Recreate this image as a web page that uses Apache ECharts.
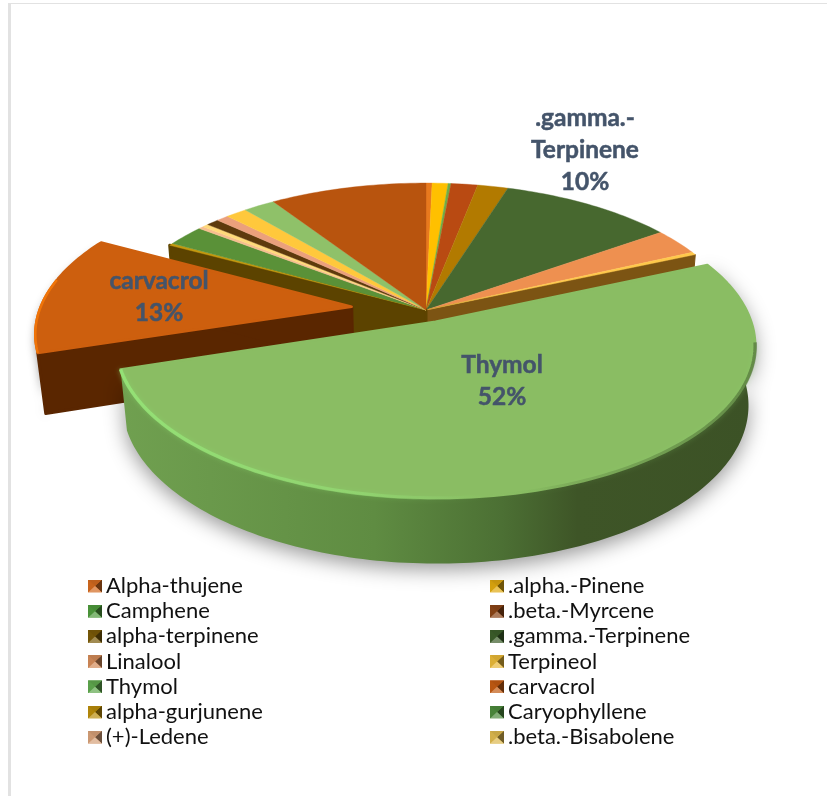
<!DOCTYPE html>
<html>
<head>
<meta charset="utf-8">
<style>html,body{margin:0;padding:0;background:#fff}#chart{width:827px;height:796px}</style>
<script src="https://cdn.jsdelivr.net/npm/echarts@6/dist/echarts.min.js"></script>
</head>
<body>
<div id="chart"></div>
<script>
// Composition of the oil, percent of total, clockwise from twelve o'clock.
const compounds = ['Alpha-thujene', '.alpha.-Pinene', 'Camphene', '.beta.-Myrcene', 'alpha-terpinene',
  '.gamma.-Terpinene', 'Linalool', 'Terpineol', 'Thymol', 'carvacrol', 'alpha-gurjunene', 'Caryophyllene',
  '(+)-Ledene', '.beta.-Bisabolene', 'Compound 15', 'Compound 16', 'Compound 17', 'Compound 18', 'Compound 19'];
const shares = [0.36, 0.94, 0.17, 1.58, 1.8, 10.36, 2.9, 0.3, 51.7, 12.8, 0.25, 2.3, 0.3, 0.36, 0.75, 0.72, 1.28, 1.89, 9.28];
const legendLeft = compounds.filter((_, i) => i < 14 && i % 2 === 0);
const legendRight = compounds.filter((_, i) => i < 14 && i % 2 === 1);

// Colours of the top faces and the cut faces.
const topColors = ['#E8791E', '#FFC000', '#70AD47', '#B94A12', '#B27A00', '#47682F', '#EE9050', '#FFC84A', '#8ABD63',
  '#CD5F0E', '#C49A10', '#5A9138', '#F6BE8E', '#FFD97A', '#5E3A0C', '#EBA07C', '#FFC83C', '#8FC169', '#B8540E'];
const wallColors = { 'Terpineol': '#7C5413', 'carvacrol': '#5A2600', 'alpha-gurjunene': '#5C4300' };
const legendColors = ['#D2691F', '#E0A90F', '#4E9A3C', '#8A4416', '#7A5A08', '#3C5E2A', '#D28A58', '#E8B838', '#5FA84E',
  '#C25A12', '#B98C0A', '#4C8A3C', '#D6A078', '#DDB84E'];

// Pulled-out slices, as a fraction of the radius.
const explode = { 'Thymol': 0.085, 'carvacrol': 0.24 };
// Slices carrying a data label, with the label's centre on the page.
const labelSpots = { '.gamma.-Terpinene': [585, 150], 'Thymol': [502, 381], 'carvacrol': [159, 297] };

// Perspective projection of the tilted disc.
const view = { cx: 426, cy: 310, radius: 312, squash: 146, height: 60, near: 0.15, far: 0.02 };
function project(x, y, z) {
  const w = 1 - view.near * y + view.far * z;
  return [view.cx + view.radius * x / w, view.cy + (view.squash * y + view.height * z) / w];
}
const total = shares.reduce((a, b) => a + b, 0);
const cumulative = [0];
shares.forEach((s, i) => cumulative.push(cumulative[i] + s));
const angleAt = i => cumulative[i] / total * 2 * Math.PI;

function sliceGeometry(i) {
  const a0 = angleAt(i), a1 = angleAt(i + 1), mid = (a0 + a1) / 2;
  const off = explode[compounds[i]] || 0;
  const ox = off * Math.sin(mid), oy = -off * Math.cos(mid);
  const rim = (from, to, z) => {
    const n = Math.max(2, Math.ceil((to - from) / 0.02));
    const pts = [];
    for (let k = 0; k <= n; k++) {
      const t = from + (to - from) * k / n;
      pts.push(project(ox + Math.sin(t), oy - Math.cos(t), z));
    }
    return pts;
  };
  return { a0, a1, off, ox, oy, rim };
}

function mix(hex, other, t) {
  const c = h => [1, 3, 5].map(k => parseInt(h.substr(k, 2), 16));
  const a = c(hex), b = c(other);
  return 'rgb(' + a.map((v, k) => Math.round(v + (b[k] - v) * t)).join(',') + ')';
}
// Bevelled legend swatch: light top and bottom, darker flanks.
function swatch(color) {
  const svg = '<svg xmlns="http://www.w3.org/2000/svg" width="14" height="13" viewBox="0 0 14 13">' +
    '<rect width="14" height="13" fill="' + color + '"/>' +
    '<path d="M0 0L7 6.5L0 13Z" fill="' + mix(color, '#000000', 0.05) + '"/>' +
    '<path d="M14 0L7 6.5L14 13Z" fill="' + mix(color, '#000000', 0.5) + '"/>' +
    '<path d="M0 13L7 6.5L14 13Z" fill="' + mix(color, '#ffffff', 0.3) + '"/>' +
    '<path d="M0 0L7 6.5L14 0Z" fill="' + mix(color, '#000000', 0.1) + '"/></svg>';
  return 'image://data:image/svg+xml;charset=utf-8,' + encodeURIComponent(svg);
}
const linear = (x, y, x2, y2, stops) => new echarts.graphic.LinearGradient(x, y, x2, y2, stops);

function renderSlice(i) {
  const name = compounds[i];
  const g = sliceGeometry(i);
  const kids = [];
  const apexTop = project(g.ox, g.oy, 0), apexLow = project(g.ox, g.oy, 1);
  const prevLoose = (explode[compounds[(i + compounds.length - 1) % compounds.length]] || 0) !== g.off;
  const nextLoose = (explode[compounds[(i + 1) % compounds.length]] || 0) !== g.off;
  const wall = wallColors[name];

  // Outer wall of a pulled-out slice.
  if (g.off > 0) {
    const pts = g.rim(g.a0, g.a1, 0).concat(g.rim(g.a0, g.a1, 1).reverse());
    const isThymol = name === 'Thymol';
    kids.push({ type: 'polygon', shape: { points: pts }, style: {
      fill: isThymol
        ? linear(1, 0, 0, 0, [{ offset: 0, color: '#3C5226' }, { offset: 0.28, color: '#3E5527' }, { offset: 0.4, color: '#4C7034' },
            { offset: 0.6, color: '#5F8C42' }, { offset: 1, color: '#70A050' }])
        : wall,
      shadowBlur: isThymol ? 20 : 10, shadowColor: 'rgba(0,0,0,0.4)', shadowOffsetY: 6
    } });
  }

  // Cut faces where the neighbouring slice has been pulled away.
  if (wall && prevLoose) {
    const a = project(g.ox + Math.sin(g.a0), g.oy - Math.cos(g.a0), 0);
    const b = project(g.ox + Math.sin(g.a0), g.oy - Math.cos(g.a0), 1);
    kids.push({ type: 'polygon', shape: { points: [apexTop, a, b, apexLow] },
      style: { fill: wall, stroke: wall, lineWidth: 3, lineJoin: 'round' } });
  }
  if (wall && nextLoose) {
    const a = project(g.ox + Math.sin(g.a1), g.oy - Math.cos(g.a1), 0);
    const b = project(g.ox + Math.sin(g.a1), g.oy - Math.cos(g.a1), 1);
    kids.push({ type: 'polygon', shape: { points: [apexTop, a, b, apexLow] },
      style: { fill: wall, stroke: wall, lineWidth: g.off > 0 ? 0 : 1, lineJoin: 'round' } });
  }

  // Top face.
  const top = [apexTop].concat(g.rim(g.a0, g.a1, 0));
  kids.push({ type: 'polygon', shape: { points: top }, style: { fill: topColors[i], stroke: topColors[i], lineWidth: g.off > 0 ? 2.5 : 0.4, lineJoin: 'round' } });

  // Soft highlight along the front edge of the pulled-out slices.
  if (name === 'Thymol') {
    kids.push({ type: 'polyline', shape: { points: g.rim(g.a0 + 0.55, g.a1, 0) }, style: {
      fill: null, lineWidth: 3.5, shadowBlur: 5, shadowColor: 'rgba(140,215,110,0.6)',
      stroke: linear(1, 0, 0, 0, [{ offset: 0, color: 'rgba(60,85,40,0.5)' }, { offset: 0.3, color: 'rgba(60,85,40,0.15)' }, { offset: 0.42, color: 'rgba(150,225,120,0.0)' },
        { offset: 0.62, color: 'rgba(150,225,120,0.55)' }, { offset: 1, color: 'rgba(150,230,120,0.85)' }]) } });
  }
  if (name === 'carvacrol') {
    kids.push({ type: 'polyline', shape: { points: g.rim(g.a0, g.a0 + 0.5, 0) }, style: { fill: null, lineWidth: 2.5, stroke: '#F07408' } });
  }

  // Data label: name and rounded share.
  const spot = labelSpots[name];
  if (spot) {
    const title = name.indexOf('gamma') >= 0 ? name.replace('-', '-\n') : name;
    kids.push({ type: 'text', x: spot[0], y: spot[1], style: {
      text: title + '\n' + Math.round(shares[i]) + '%', align: 'center', verticalAlign: 'middle',
      font: 'bold 24.5px Lato', lineHeight: 32, fill: '#44546A', stroke: '#44546A', lineWidth: 0.5 } });
  }
  return { type: 'group', children: kids };
}

const sliceSeries = compounds.map((name, i) => ({
  type: 'custom',
  name,
  coordinateSystem: 'none',
  // Painter's order: the seated slices, then carvacrol, then Thymol in front.
  z: name === 'Thymol' ? 4 : name === 'carvacrol' ? 3 : 2,
  silent: true,
  data: [shares[i]],
  renderItem: () => renderSlice(i)
}));

const legendEntries = names => names.map(n => ({ name: n, icon: swatch(legendColors[compounds.indexOf(n)]) }));
const legendBase = {
  orient: 'vertical', selectedMode: false, padding: 0, itemWidth: 14, itemHeight: 13, itemGap: 3.2,
  textStyle: { fontFamily: 'Lato', fontSize: 22, color: '#111', padding: [0, 0, 0, -1] }
};

const chart = echarts.init(document.getElementById('chart'), null, { renderer: 'canvas' });
chart.setOption({
  animation: false,
  backgroundColor: '#fff',
  legend: [
    Object.assign({}, legendBase, { left: 88, top: 575, data: legendEntries(legendLeft) }),
    Object.assign({}, legendBase, { left: 490, top: 575, data: legendEntries(legendRight) })
  ],
  graphic: [
    { type: 'rect', silent: true, shape: { x: 8, y: 3, width: 3, height: 793 }, style: { fill: '#E2E2E2' } },
    { type: 'rect', silent: true, shape: { x: 8, y: 3, width: 819, height: 1 }, style: { fill: '#E2E2E2' } }
  ],
  series: sliceSeries
});
</script>
</body>
</html>
